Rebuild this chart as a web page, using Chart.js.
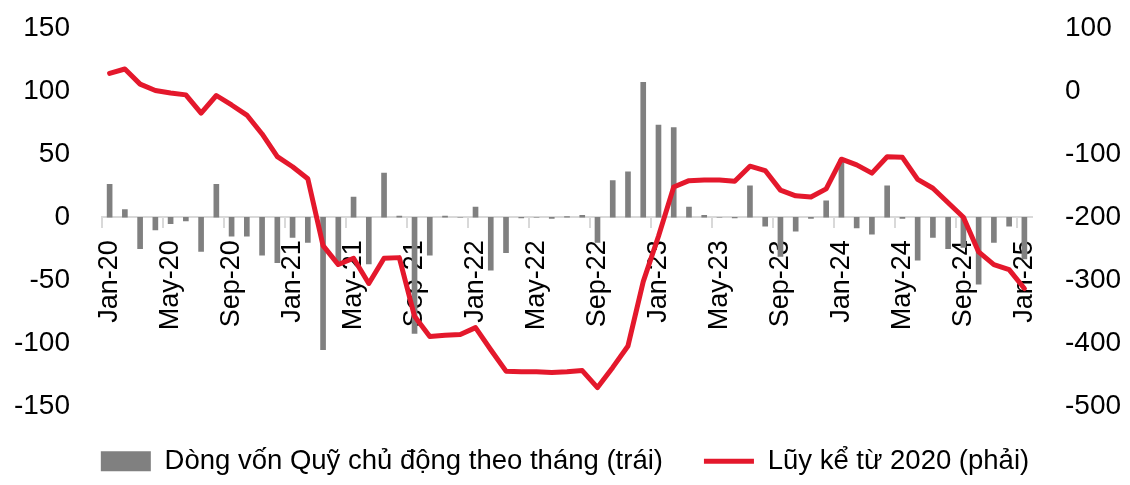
<!DOCTYPE html>
<html>
<head>
<meta charset="utf-8">
<script src="https://cdn.jsdelivr.net/npm/chart.js@4.4.1/dist/chart.umd.min.js"></script>
<style>
  html, body { margin: 0; padding: 0; background: #fff; }
  #wrap { width: 1130px; height: 485px; position: relative; }
</style>
</head>
<body>
<div id="wrap"><canvas id="flowChart"></canvas></div>
<script>
const months = [
  'Jan-20','Feb-20','Mar-20','Apr-20','May-20','Jun-20','Jul-20','Aug-20','Sep-20','Oct-20','Nov-20','Dec-20',
  'Jan-21','Feb-21','Mar-21','Apr-21','May-21','Jun-21','Jul-21','Aug-21','Sep-21','Oct-21','Nov-21','Dec-21',
  'Jan-22','Feb-22','Mar-22','Apr-22','May-22','Jun-22','Jul-22','Aug-22','Sep-22','Oct-22','Nov-22','Dec-22',
  'Jan-23','Feb-23','Mar-23','Apr-23','May-23','Jun-23','Jul-23','Aug-23','Sep-23','Oct-23','Nov-23','Dec-23',
  'Jan-24','Feb-24','Mar-24','Apr-24','May-24','Jun-24','Jul-24','Aug-24','Sep-24','Oct-24','Nov-24','Dec-24',
  'Jan-25'
];

// monthly flow (left axis)
const monthlyFlow = [
  26, 6, -25, -10, -5, -3, -27, 26, -15, -15, -30, -36,
  -16, -20, -105, -35, 16, -37, 35, 1, -92, -30, 1, 0,
  8, -42, -28, -0.5, 0, -1, 0.5, 1.5, -20, 29, 36, 107,
  73, 71, 8, 1.5, 0, -0.5, 25, -7, -31, -11, -1, 13,
  46, -8.5, -13.5, 25, -1, -34, -16, -25, -24, -53, -20, -7,
  -33
];

// cumulative since 2020 (right axis)
const cumulative = [
  28, 35, 11, 1, -3, -6, -35, -7, -22, -38, -68, -104,
  -120, -139, -245, -275, -265, -305, -265, -264, -357, -389, -387, -386,
  -375, -410, -444, -445, -445, -446, -445, -443, -470, -438, -404, -302,
  -230, -152, -142, -141, -141, -143, -119, -126, -157, -166, -168, -155,
  -108, -117, -130, -104, -105, -140, -154, -177, -200, -255, -275, -283,
  -313
];

const leftTicks = [-150, -100, -50, 0, 50, 100, 150];
const rightTicks = [-500, -400, -300, -200, -100, 0, 100];

const FONT = '"Liberation Sans", Arial, sans-serif';
const axisGrey = '#d9d9d9';

// y axes: fixed widths, and no extra label padding above/below the plot
function fixAxis(width) {
  return s => {
    s.width = width;
    s.paddingTop = 0;
    s.paddingBottom = 0;
  };
}

new Chart(document.getElementById('flowChart'), {
  data: {
    labels: months,
    datasets: [
      {
        type: 'bar',
        label: 'Dòng vốn Quỹ chủ động theo tháng (trái)',
        data: monthlyFlow,
        backgroundColor: '#808080',
        borderWidth: 0,
        barThickness: 5,
        pointStyle: 'rect',
        yAxisID: 'y',
        order: 2
      },
      {
        type: 'line',
        label: 'Lũy kể từ 2020 (phải)',
        data: cumulative,
        borderColor: '#e4182c',
        backgroundColor: '#e4182c',
        borderWidth: 5,
        borderCapStyle: 'round',
        borderJoinStyle: 'round',
        pointRadius: 0,
        pointStyle: 'line',
        tension: 0,
        yAxisID: 'y1',
        order: 1
      }
    ]
  },
  options: {
    responsive: true,
    maintainAspectRatio: false,
    animation: false,
    layout: { padding: { top: 28, left: 0, right: 0, bottom: 0 } },
    plugins: {
      tooltip: { enabled: false },
      legend: {
        position: 'bottom',
        labels: {
          usePointStyle: true,
          pointStyleWidth: 50,
          boxHeight: 20,
          padding: 41,
          color: '#000',
          font: { family: FONT, size: 27.5 },
          sort: (a, b) => a.datasetIndex - b.datasetIndex
        }
      }
    },
    scales: {
      x: {
        position: { y: 0 },
        offset: true,
        afterFit: s => { s.paddingLeft = 0; s.paddingRight = 0; },
        grid: {
          drawOnChartArea: false,
          drawTicks: true,
          tickLength: 10,
          lineWidth: 2,
          color: ctx => (ctx.index % 4 === 0 ? axisGrey : 'rgba(0,0,0,0)')
        },
        border: { display: true, color: axisGrey, width: 2 },
        ticks: {
          autoSkip: false,
          minRotation: 90,
          maxRotation: 90,
          padding: 13,
          color: '#000',
          font: { family: FONT, size: 27 },
          callback: (v, i) => (i % 4 === 0 ? months[i] : '')
        }
      },
      y: {
        position: 'left',
        min: leftTicks[0],
        max: leftTicks[leftTicks.length - 1],
        afterBuildTicks: s => { s.ticks = leftTicks.map(v => ({ value: v })); },
        afterFit: fixAxis(102),
        grid: { display: false, drawTicks: false },
        border: { display: false },
        ticks: { padding: 32, color: '#000', font: { family: FONT, size: 28 } }
      },
      y1: {
        position: 'right',
        min: rightTicks[0],
        max: rightTicks[rightTicks.length - 1],
        afterBuildTicks: s => { s.ticks = rightTicks.map(v => ({ value: v })); },
        afterFit: fixAxis(98),
        grid: { display: false, drawTicks: false },
        border: { display: false },
        ticks: { padding: 33, color: '#000', font: { family: FONT, size: 28 } }
      }
    }
  }
});
</script>
</body>
</html>
